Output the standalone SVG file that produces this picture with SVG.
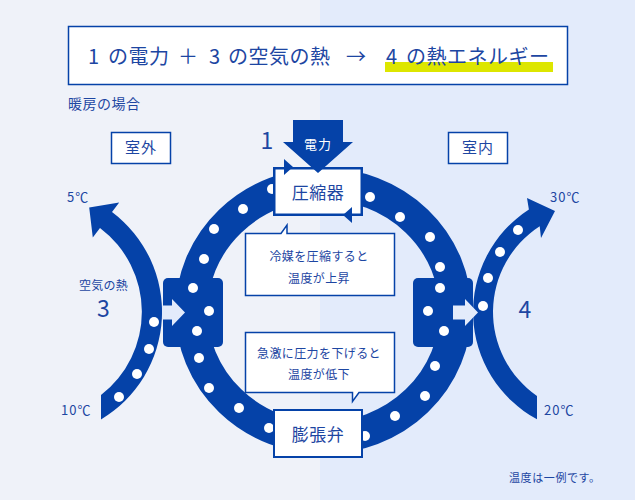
<svg xmlns="http://www.w3.org/2000/svg" width="635" height="500" viewBox="0 0 635 500">
  <style>
    text { font-family: "Noto Sans CJK JP", "Noto Sans", sans-serif; fill: #1d46a2; }
    .blue { fill: #0542a8; }
    .dot { fill: #ffffff; }
    .box { fill: #ffffff; stroke: #0542a8; }
    .light { fill: #e3ebfb; }
    .mid { text-anchor: middle; }
  </style>
  <defs>
    <circle id="d" r="5" class="dot"/>
  </defs>
  <g id="background">
    <rect x="0" y="0" width="320" height="500" fill="#eff2f9"/>
    <rect x="320" y="0" width="315" height="500" fill="#e3ebfb"/>
  </g>

  <g id="title">
    <rect x="68.5" y="26.5" width="499" height="58" class="box" stroke-width="1.5"/>
    <rect x="385" y="62" width="168" height="10" fill="#dde600"/>
    <g font-size="20" letter-spacing="0.5">
      <text x="88" y="64">1</text>
      <text x="108" y="64">の電力</text>
      <text x="178" y="64">＋</text>
      <text x="209" y="64">3</text>
      <text x="228" y="64">の空気の熱</text>
      <text x="346" y="64">→</text>
      <text x="386" y="64">4</text>
      <text x="406" y="64">の熱エネルギー</text>
    </g>
  </g>

  <g id="heading">
    <text x="68" y="109" font-size="14" letter-spacing="0.5">暖房の場合</text>
  </g>

  <g id="node-outdoor">
    <rect x="111.5" y="132.5" width="59" height="31" class="box" stroke-width="1.5"/>
    <text x="141" y="153" font-size="15" letter-spacing="1" class="mid">室外</text>
  </g>
  <g id="node-indoor">
    <rect x="448.5" y="132.5" width="59" height="31" class="box" stroke-width="1.5"/>
    <text x="478" y="153" font-size="15" letter-spacing="1" class="mid">室内</text>
  </g>

  <g id="connectors">
    <!-- refrigerant ring -->
    <ellipse cx="323.5" cy="311" rx="132" ry="127" fill="none" stroke="#0542a8" stroke-width="32"/>
    <!-- heat exchanger blocks -->
    <rect x="163" y="278" width="60" height="69" rx="5" class="blue"/>
    <rect x="413" y="278" width="60" height="69" rx="5" class="blue"/>
    <!-- outdoor air arc -->
    <path class="blue" d="M101 419.4 A125 125 0 0 0 112 212 L119.2 202.4 L89.2 207.4 L92.8 237.6 L100 228 A105 105 0 0 1 101 395 Z"/>
    <!-- indoor air arc -->
    <path class="blue" d="M537 419.3 A122 122 0 0 1 528.9 209.5 L527 198 L555 211 L541 238 L539.7 226.3 A102 102 0 0 0 537 395.9 Z"/>
    <!-- heat transfer arrows -->
    <path class="light" d="M162 305.5 H172 V299 L185 312.5 L172 326 V319.5 H162 Z"/>
    <path class="light" d="M453 305.5 H465 V299 L478 312.5 L465 326 V319.5 H453 Z"/>
    <!-- dots -->
    <g id="ring-dots">
      <use href="#d" x="272" y="189"/>
      <use href="#d" x="243" y="209"/>
      <use href="#d" x="214" y="229"/>
      <use href="#d" x="204" y="259"/>
      <use href="#d" x="193" y="288"/>
      <use href="#d" x="209" y="311"/>
      <use href="#d" x="197" y="331"/>
      <use href="#d" x="199" y="358"/>
      <use href="#d" x="209" y="388"/>
      <use href="#d" x="239" y="408"/>
      <use href="#d" x="269" y="428"/>
      <use href="#d" x="370" y="197"/>
      <use href="#d" x="400" y="217"/>
      <use href="#d" x="430" y="237"/>
      <use href="#d" x="440" y="267"/>
      <use href="#d" x="440" y="288"/>
      <use href="#d" x="428" y="311"/>
      <use href="#d" x="444" y="331"/>
      <use href="#d" x="435" y="366"/>
      <use href="#d" x="425" y="396"/>
      <use href="#d" x="395" y="416"/>
      <use href="#d" x="365" y="436"/>
    </g>
    <g id="air-dots">
      <use href="#d" x="154" y="322"/>
      <use href="#d" x="149" y="349"/>
      <use href="#d" x="137" y="374"/>
      <use href="#d" x="119" y="397"/>
      <use href="#d" x="518" y="230"/>
      <use href="#d" x="500" y="252"/>
      <use href="#d" x="488" y="278"/>
      <use href="#d" x="483" y="306"/>
    </g>
  </g>

  <g id="bubble-compress">
    <path class="box" stroke-width="1.5" d="M245.5 233.5 H281 L287 225 V233.5 H394.5 V295.5 H245.5 Z"/>
    <text x="319" y="261" font-size="12" letter-spacing="0.4" class="mid">冷媒を圧縮すると</text>
    <text x="319" y="283" font-size="12" letter-spacing="0.4" class="mid">温度が上昇</text>
  </g>
  <g id="bubble-expand">
    <path class="box" stroke-width="1.5" d="M245.5 332.5 H394.5 V392.5 H359 L352.5 401.5 V392.5 H245.5 Z"/>
    <text x="319" y="358" font-size="12" letter-spacing="0.4" class="mid">急激に圧力を下げると</text>
    <text x="319" y="379" font-size="12" letter-spacing="0.4" class="mid">温度が低下</text>
  </g>

  <g id="node-compressor">
    <rect x="274.25" y="168.25" width="87.5" height="46.5" class="box" stroke-width="2.5"/>
    <text x="318" y="199" font-size="17" letter-spacing="0.5" class="mid">圧縮器</text>
    <polygon class="blue" points="284,159 284,175 293,167"/>
    <polygon class="blue" points="352,207 352,223 343,215"/>
  </g>

  <g id="node-power">
    <path class="blue" d="M293 120 H343 V142 H353 L318 173 L283 142 H293 Z"/>
    <text x="318" y="149" font-size="13" letter-spacing="1" class="mid" style="fill:#ffffff">電力</text>
    <text x="267" y="149" font-size="23" class="mid">1</text>
  </g>

  <g id="node-expansion">
    <rect x="274" y="410" width="88" height="47" class="box" stroke-width="2"/>
    <text x="318" y="441" font-size="17" letter-spacing="0.5" class="mid">膨張弁</text>
  </g>

  <g id="labels">
    <text x="103.5" y="290" font-size="12" letter-spacing="0.3" class="mid">空気の熱</text>
    <text x="103.5" y="317" font-size="23" class="mid">3</text>
    <text x="525" y="318" font-size="23" class="mid">4</text>
    <text x="67" y="202" font-size="13" letter-spacing="1">5℃</text>
    <text x="61" y="415" font-size="13" letter-spacing="1">10℃</text>
    <text x="550" y="202" font-size="13" letter-spacing="1">30℃</text>
    <text x="544" y="415" font-size="13" letter-spacing="1">20℃</text>
    <text x="509" y="482" font-size="11" letter-spacing="0.6">温度は一例です。</text>
  </g>
</svg>
